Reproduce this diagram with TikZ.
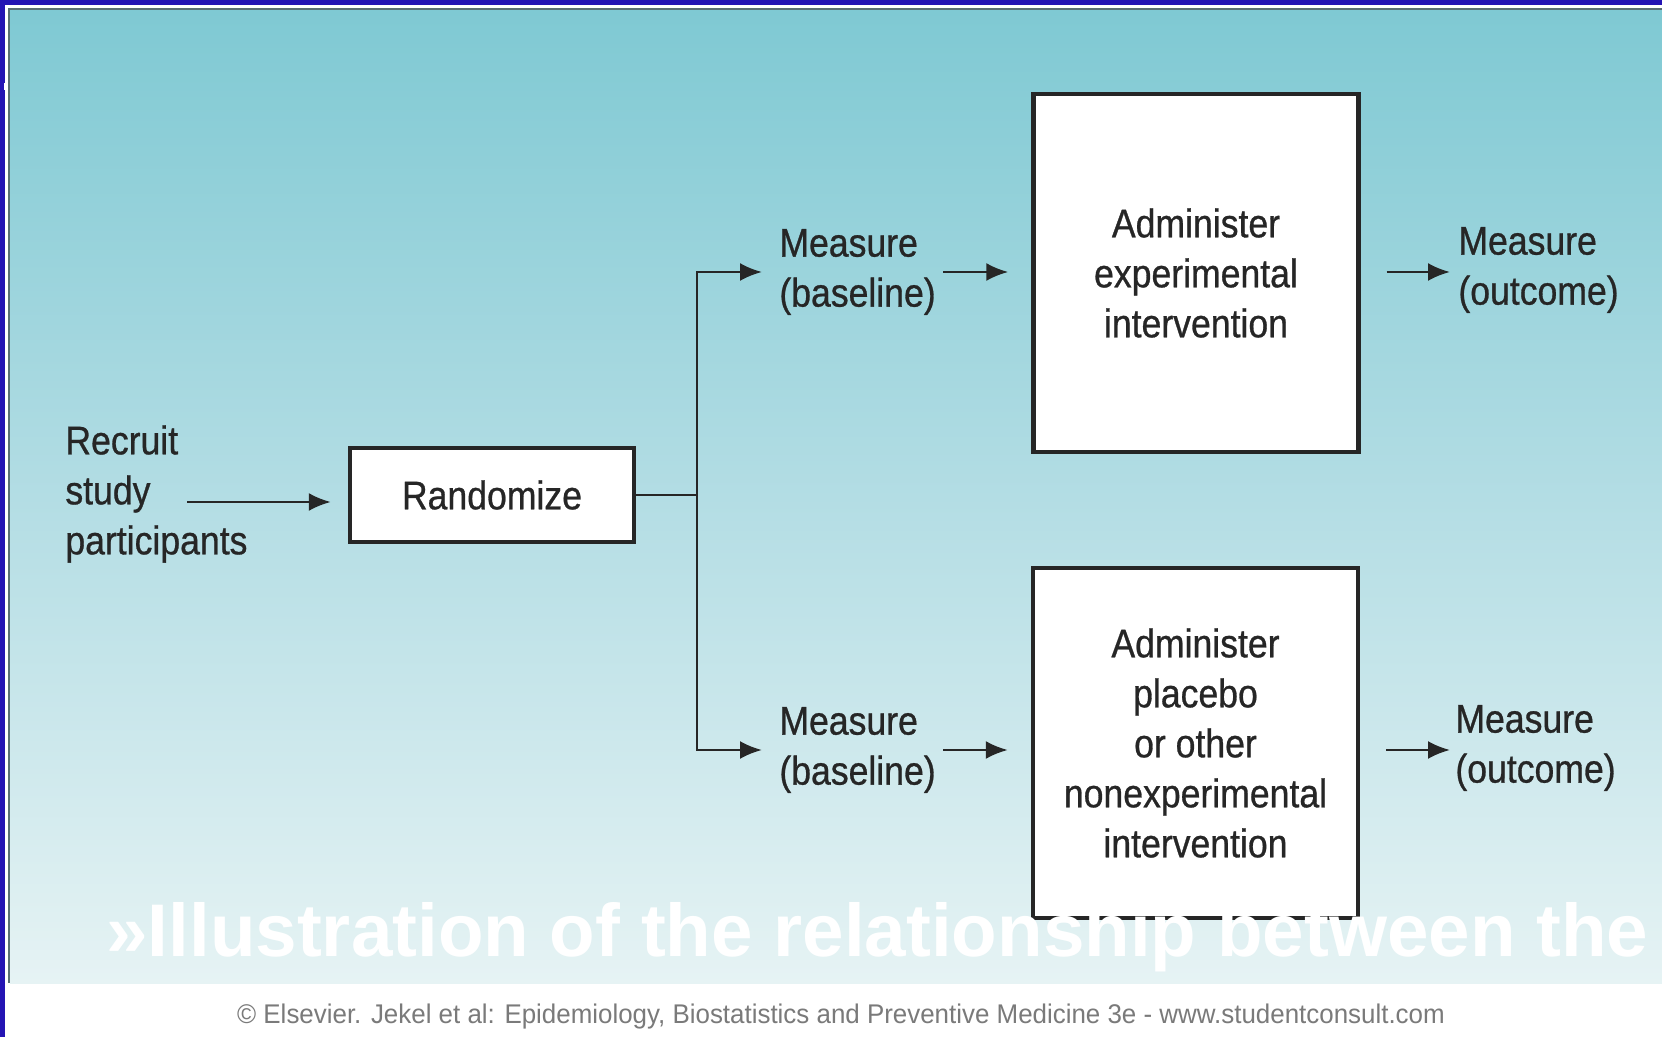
\documentclass[tikz,border=0pt]{standalone}
\usepackage{fontspec}
\setmainfont{Liberation Sans}
\newfontfamily\flowfont{Liberation Sans}[FakeStretch=0.89,FakeBold=0.7]
\newfontfamily\notefont{Liberation Sans}[FakeStretch=0.96]
\usetikzlibrary{arrows.meta}
\definecolor{frameblue}{HTML}{2414B4}
\definecolor{bgtop}{HTML}{7FC9D3}
\definecolor{bgmid}{HTML}{B3DDE4}
\definecolor{bgbot}{HTML}{E6F3F4}
\definecolor{ink}{HTML}{262626}
\definecolor{rim}{HTML}{5A6F73}
\definecolor{notegray}{HTML}{7A7A7A}
\begin{document}
\begin{tikzpicture}[x=0.5pt,y=-0.5pt,
  txt/.style={font=\flowfont\fontsize{20pt}{25pt}\selectfont, text=ink, inner sep=0pt, align=left},
  stepbox/.style={draw=ink, line width=2.2pt, fill=white, inner sep=0pt, align=center,
    font=\flowfont\fontsize{20pt}{25pt}\selectfont, text=ink},
  link/.style={draw=ink, line width=1.3pt},
  arr/.style={link, -{Latex[length=11pt,width=9pt]}}]
\useasboundingbox (0,0) rectangle (1662,1037);

% frame and background
\fill[frameblue] (0,0) rectangle (1662,1037);
\fill[white] (5,5) rectangle (1662,1037);
\fill[rim] (8,8) rectangle (1662,983);
\shade[top color=bgtop, bottom color=bgbot, middle color=bgmid] (10,11) rectangle (1662,983);
\fill[white] (4,83) rectangle (7,90);

% left column
\node[txt, anchor=west] (recruit) at (65,494) {Recruit\\study\\participants};
\node[stepbox, minimum width=142pt, minimum height=47pt] (rand) at (492,495) {Randomize};
\coordinate (recruitOut) at (187,502);
\draw[arr, shorten >=8.5pt] (recruitOut) -- (recruitOut -| rand.west);

% split point
\coordinate (split) at (697,495);

% measurement labels
\node[txt, anchor=west] (mb1) at (779,272) {Measure\\(baseline)};
\node[txt, anchor=west] (mb2) at (779,750) {Measure\\(baseline)};
\node[txt, anchor=west] (mo1) at (1458,270) {Measure\\(outcome)};
\node[txt, anchor=west] (mo2) at (1455,748) {Measure\\(outcome)};

% intervention boxes
\node[stepbox, minimum width=162.5pt, minimum height=179pt] (expA) at (1196,273)
  {Administer\\experimental\\intervention};
\node[stepbox, minimum width=162.5pt, minimum height=175pt] (ctrl) at (1195.5,743)
  {Administer\\placebo\\or other\\nonexperimental\\intervention};

% connectors
\draw[link] (rand.east) -- (split);
\draw[arr, shorten >=8.5pt] (split) |- (mb1.west);
\draw[arr, shorten >=8.5pt] (split) |- (mb2.west);
\draw[arr, shorten <=3.5pt, shorten >=11.5pt] (mb1.east |- 0,272) -- (expA.west |- 0,272);
\draw[arr, shorten <=3.5pt, shorten >=11.5pt] (mb2.east |- 0,750) -- (ctrl.west |- 0,750);
\draw[arr, shorten <=13pt, shorten >=4pt] (expA.east |- 0,272) -- (mo1.west |- 0,272);
\draw[arr, shorten <=13pt, shorten >=2.5pt] (ctrl.east |- 0,750) -- (mo2.west |- 0,750);

% slide title overlay and source line
\node[anchor=base west, inner sep=0pt, text=white, font=\bfseries\fontsize{37.3pt}{40pt}\selectfont]
  (title) at (106,956) {»Illustration of the relationship between the};
\node[inner sep=0pt, text=notegray, font=\notefont\fontsize{13.5pt}{15pt}\selectfont]
  (source) at (841,1017) {© Elsevier. Jekel et al: Epidemiology, Biostatistics and Preventive Medicine 3e - www.studentconsult.com};
\end{tikzpicture}
\end{document}
